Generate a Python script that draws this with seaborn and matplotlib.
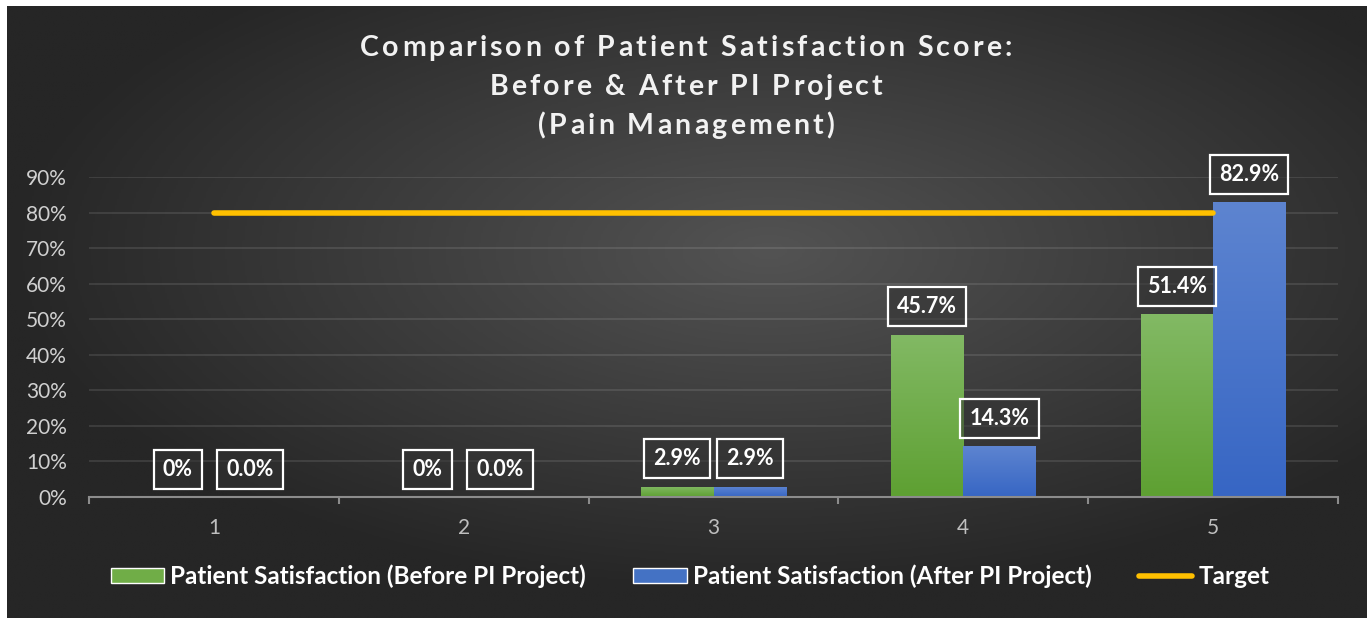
import matplotlib
matplotlib.use("Agg")
import matplotlib.pyplot as plt
import seaborn as sns
import pandas as pd
import numpy as np
from matplotlib.colors import LinearSegmentedColormap
from matplotlib.patches import Patch
from matplotlib.lines import Line2D

# chart data
categories = ["1", "2", "3", "4", "5"]
before_pi = [0.0, 0.0, 2.9, 45.7, 51.4]
after_pi = [0.0, 0.0, 2.9, 14.3, 82.9]
target = [80, 80, 80, 80, 80]
series_names = ["Patient Satisfaction (Before PI Project)",
                "Patient Satisfaction (After PI Project)"]
title_lines = ["Comparison of Patient Satisfaction Score:",
               "Before & After PI Project",
               "(Pain Management)"]
y_ticks = [0, 10, 20, 30, 40, 50, 60, 70, 80, 90]

green = "#70AD47"
blue = "#4472C4"
gold = "#FFC000"

W, H = 1367, 618

sns.set_theme(style="dark")
plt.rcParams["font.family"] = ["Lato", "DejaVu Sans"]

fig = plt.figure(figsize=(W / 100, H / 100), dpi=100, facecolor="white")

# dark radial background, white strip on left and top like the original
bg = fig.add_axes([7 / W, 0, 1 - 7 / W, 1 - 6 / H])
yy, xx = np.mgrid[0:1:300j, 0:1:600j]
r = np.sqrt(((xx - 0.56) / 0.75) ** 2 + ((yy - 0.6) / 0.75) ** 2)
bg_cmap = LinearSegmentedColormap.from_list("bg", ["#535353", "#262626"])
bg.imshow(np.clip(r / 0.75, 0, 1), cmap=bg_cmap, aspect="auto",
          extent=[0, 1, 0, 1], origin="lower", vmin=0, vmax=1)
bg.axis("off")

ax = fig.add_axes([89 / W, 121 / H, 1249 / W, 320 / H])
ax.patch.set_alpha(0)

df = pd.DataFrame({
    "category": categories * 2,
    "value": before_pi + after_pi,
    "series": [series_names[0]] * 5 + [series_names[1]] * 5,
})
sns.barplot(data=df, x="category", y="value", hue="series",
            palette=[green, blue], width=0.58, gap=0, ax=ax,
            legend=False, saturation=1, edgecolor="none", linewidth=0)

# vertical gradient on the bars
grads = {
    "g": LinearSegmentedColormap.from_list("g", ["#5EA032", "#82B964"]),
    "b": LinearSegmentedColormap.from_list("b", ["#3766C4", "#5D84D0"]),
}
for p in ax.patches:
    if p.get_height() <= 0:
        continue
    r_, g_, b_, _ = p.get_facecolor()
    cm = grads["g"] if g_ > b_ else grads["b"]
    x0, w, h = p.get_x(), p.get_width(), p.get_height()
    im = ax.imshow(np.linspace(0, 1, 100).reshape(-1, 1), cmap=cm,
                   aspect="auto", origin="lower",
                   extent=[x0, x0 + w, 0, h], zorder=p.get_zorder() + 0.1)
    im.set_clip_path(p)

# data labels
box = dict(boxstyle="square,pad=0.42", fc=(0.2, 0.2, 0.2, 0.55),
           ec="white", lw=1.6)
half = 0.29
for i in range(len(categories)):
    for off, v, zero_txt in ((-half / 2, before_pi[i], "0%"),
                             (half / 2, after_pi[i], "0.0%")):
        txt = zero_txt if v == 0 else f"{v:.1f}%"
        ax.annotate(txt, (i + off, v), xytext=(0, 12.5),
                    textcoords="offset points", ha="center", va="bottom",
                    fontsize=15.5, fontweight="bold", color="white",
                    bbox=box, zorder=6)

# target line
sns.lineplot(x=np.arange(len(categories)), y=target, color=gold,
             linewidth=4, ax=ax, zorder=5, solid_capstyle="round")

ax.set_xlim(-0.5, len(categories) - 0.5)
ax.set_ylim(0, 90)
ax.set_yticks(y_ticks)
ax.set_yticklabels([f"{t}%" for t in y_ticks])
ax.set_xlabel("")
ax.set_ylabel("")
ax.grid(axis="y", color="white", alpha=0.12, linewidth=1.2)
ax.grid(axis="x", visible=False)
ax.set_axisbelow(True)
for s in ("top", "right", "left"):
    ax.spines[s].set_visible(False)
ax.spines["bottom"].set_color("#8c8c8c")
ax.spines["bottom"].set_linewidth(1.5)
ax.set_xticks(np.arange(-0.5, len(categories), 1), minor=True)
ax.tick_params(axis="x", which="minor", length=5, width=1.5,
               color="#8c8c8c", bottom=True)
ax.tick_params(axis="x", which="major", length=0, pad=15,
               labelsize=15, labelcolor="#bfbfbf")
ax.tick_params(axis="y", length=0, pad=16, labelsize=15,
               labelcolor="#d0d0d0")

# title with a little letter spacing, one character at a time
renderer = fig.canvas.get_renderer()
tkw = dict(fontsize=20.5, fontweight="bold", color="#f2f2f2")


def text_width(s):
    t = fig.text(0, 0, s + "|", **tkw)
    w = t.get_window_extent(renderer).width
    t.remove()
    return w


bar_w = text_width("")
spacing = 3.1
for n, line in enumerate(title_lines):
    widths = [text_width(line[:k]) - bar_w for k in range(len(line) + 1)]
    total = widths[-1] + spacing * (len(line) - 1)
    x_start = 686 - total / 2
    y_base = H - (56 + 39 * n)
    for k, ch in enumerate(line):
        if ch == " ":
            continue
        fig.text((x_start + widths[k] + spacing * k) / W, y_base / H, ch,
                 ha="left", va="baseline", **tkw)

# legend
handles = [Patch(facecolor=green), Patch(facecolor=blue),
           Line2D([0], [0], color=gold, lw=4, solid_capstyle="round")]
leg = fig.legend(handles, series_names + ["Target"], loc="center",
                 bbox_to_anchor=(690 / W, 1 - 576 / H), ncol=3,
                 frameon=False, handlelength=2.2, handleheight=0.6,
                 handletextpad=0.25, columnspacing=1.95,
                 prop=dict(size=17.5, weight="bold"))
for t in leg.get_texts():
    t.set_color("white")

fig.savefig("out.png", dpi=100, facecolor="white")
